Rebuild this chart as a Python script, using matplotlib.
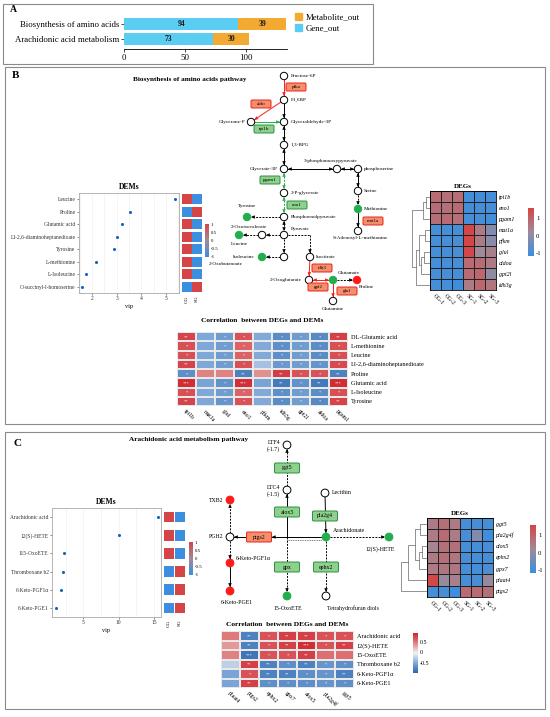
import numpy as np
import matplotlib
matplotlib.use("Agg")
import matplotlib.pyplot as plt
from matplotlib.colors import LinearSegmentedColormap, Normalize
from matplotlib.cm import ScalarMappable
from matplotlib.patches import Rectangle, Circle, FancyBboxPatch, Patch

plt.rcParams["font.family"] = ["Liberation Serif", "DejaVu Serif"]
plt.rcParams["axes.unicode_minus"] = False

# ---------------- data ----------------
# A: enriched pathways
pathways = ["Biosynthesis of amino acids", "Arachidonic acid metabolism"]
gene_out = [94, 73]
metab_out = [39, 30]

groups = ["CG-1", "CG-2", "CG-3", "SG-1", "SG-2", "SG-3"]

# B: DEMs (vip) and CG/SG direction
b_dems = ["Leucine", "Proline", "Glutamic acid", "LI-2,6-diaminoheptanedioate",
          "Tyrosine", "L-methionine", "L-Isoleucine", "O-succinyl-l-homoserine"]
b_vip = [5.38, 3.53, 3.2, 3.0, 2.9, 2.17, 1.76, 1.58]
b_cg_dir = [1, -1, 1, 1, 1, 1, 1, -1]

# B: DEGs z-scores
b_degs = ["tpi1b", "eno1", "pgam1", "mat1a", "pfkm", "glul", "aldoa", "gpt2l", "idh3g"]
b_deg_z = [
    [0.8, 0.7, 0.75, -1.0, -1.05, -1.0],
    [0.75, 0.7, 0.8, -1.05, -1.0, -1.0],
    [0.75, 0.8, 0.7, -1.0, -1.0, -1.05],
    [-1.0, -1.0, -1.0, 1.5, 0.5, -0.2],
    [-1.0, -1.0, -0.9, 1.5, 0.5, -0.1],
    [-1.0, -1.0, -0.9, 1.5, 0.2, 0.4],
    [-1.0, -1.0, -1.0, 0.8, 0.8, 0.5],
    [-1.0, -1.0, -1.0, 0.8, 0.9, 0.0],
    [-1.0, -1.0, -1.1, 0.5, 0.9, 0.6],
]
b_link = [(0, 1, 0.25), (9, 2, 0.4), (3, 4, 0.3), (5, 6, 0.35), (12, 7, 0.5),
          (11, 13, 0.65), (14, 8, 0.8), (10, 15, 1.0)]

# B: correlation DEGs x DEMs
b_corr_genes = ["tpi1b", "mat1a", "glul", "eno1", "pfkm", "idh3g", "gpt2l", "aldoa", "pgam1"]
b_corr_mets = ["DL-Glutamic acid", "L-methionine", "Leucine", "LI-2,6-diaminoheptanedioate",
               "Proline", "Glutamic acid", "L-Isoleucine", "Tyrosine"]
b_corr = [
    [0.78, -0.52, -0.6, 0.7, -0.5, -0.72, -0.6, -0.74, 0.8],
    [0.72, -0.52, -0.6, 0.62, -0.5, -0.7, -0.6, -0.72, 0.72],
    [0.72, -0.52, -0.6, 0.62, -0.5, -0.7, -0.6, -0.72, 0.72],
    [0.78, -0.52, -0.6, 0.72, -0.35, -0.62, -0.6, -0.66, 0.75],
    [-0.7, 0.45, 0.45, -0.8, 0.4, 0.82, 0.7, 0.7, -0.8],
    [0.9, -0.55, -0.68, 0.88, -0.55, -0.85, -0.68, -0.85, 0.9],
    [0.72, -0.52, -0.6, 0.62, -0.5, -0.7, -0.6, -0.72, 0.72],
    [0.78, -0.52, -0.65, 0.7, -0.5, -0.72, -0.6, -0.74, 0.78],
]

# C: DEMs
c_dems = ["Arachidonic acid", "12(S)-HETE", "115-OxoETE", "Thromboxane b2",
          "6-Keto-PGF1α", "6-Keto-PGE1"]
c_vip = [15.6, 10.1, 2.2, 2.1, 1.86, 1.14]
c_cg_dir = [1, 1, 1, -1, -1, -1]

# C: DEGs
c_degs = ["ggt5", "pla2g4f", "alox5", "ephx2", "gpx7", "plaat4", "ptgs2"]
c_deg_z = [
    [0.5, 0.7, 0.5, -1.0, -1.0, -1.0],
    [0.5, 0.8, 0.5, -1.0, -0.2, -1.1],
    [0.3, 0.7, 0.7, -1.0, -1.0, -1.0],
    [0.5, 0.7, 0.6, -1.0, -1.0, -1.0],
    [0.5, 0.6, 0.6, -1.0, -1.0, -0.9],
    [1.5, 0.1, 0.4, -1.0, -1.0, 0.1],
    [-1.0, -1.0, -1.2, 0.8, 0.8, 0.7],
]
c_link = [(0, 1, 0.25), (2, 3, 0.2), (8, 4, 0.3), (7, 9, 0.45), (10, 5, 0.7), (11, 6, 1.0)]

# C: correlation
c_corr_genes = ["plaat4", "ptgs2", "ephx2", "gpx7", "alox5", "pla2g4f", "ggt5"]
c_corr_mets = ["Arachidonic acid", "12(S)-HETE", "15-OxoETE", "Thromboxane b2",
               "6-Keto-PGF1α", "6-Keto-PGE1"]
c_corr = [
    [0.5, -0.8, 0.7, 0.8, 0.8, 0.7, 0.7],
    [0.35, -0.8, 0.7, 0.8, 0.9, 0.7, 0.8],
    [0.45, -0.88, 0.7, 0.7, 0.8, 0.55, 0.55],
    [-0.25, 0.8, -0.8, -0.7, -0.8, -0.65, -0.7],
    [-0.55, 0.7, -0.8, -0.8, -0.7, -0.65, -0.8],
    [-0.55, 0.8, -0.7, -0.7, -0.7, -0.65, -0.7],
]

# ---------------- layout / style ----------------
W, H = 550, 717
fig = plt.figure(figsize=(W / 100, H / 100), dpi=100)

deg_cmap = LinearSegmentedColormap.from_list("deg", ["#3B8EE0", "#A08A98", "#D64545"])
cor_cmap = LinearSegmentedColormap.from_list("cor", ["#2A66AE", "#7FA9D8", "#F2F2F2", "#E08080", "#D0232D"])
GREEN, RED = "#1FAF4B", "#FF1A1A"


def px_axes(x0, y0, x1, y1, **kw):
    return fig.add_axes([x0 / W, 1 - y1 / H, (x1 - x0) / W, (y1 - y0) / H], **kw)


def tick_text(vals):
    return ["%g" % v for v in vals]


ov = px_axes(0, 0, W, H)
ov.set_xlim(0, W)
ov.set_ylim(H, 0)
ov.axis("off")

for x0, y0, x1, y1 in [(3, 4, 373, 64), (5, 67, 545, 424), (5, 432, 545, 709)]:
    ov.add_patch(Rectangle((x0, y0), x1 - x0, y1 - y0, fill=False, ec="#8a8a8a", lw=0.8))
ov.text(10, 10, "A", fontsize=7, fontweight="bold", va="center")
ov.text(12, 76, "B", fontsize=8, fontweight="bold", va="center")
ov.text(13, 444, "C", fontsize=8, fontweight="bold", va="center")

# ---------------- A ----------------
ax = px_axes(124, 14, 287, 49)
ypos = np.arange(len(pathways))[::-1]
ax.barh(ypos, gene_out, height=0.75, color="#5BCDF2")
ax.barh(ypos, metab_out, left=gene_out, height=0.75, color="#F2AA33")
for y, g, m in zip(ypos, gene_out, metab_out):
    ax.text(g / 2, y, str(g), ha="center", va="center", fontsize=5.5, fontweight="bold", color="#1a1a1a")
    ax.text(g + m / 2, y, str(m), ha="center", va="center", fontsize=5.5, fontweight="bold", color="#1a1a1a")
ax.set_yticks(ypos, pathways, fontsize=6.3)
ax.set_xlim(0, 134)
ax.set_ylim(-0.6, 1.6)
ax.set_xticks([0, 50, 100])
ax.tick_params(labelsize=6.3, length=2, width=0.5, pad=1.5)
for s in ["top", "right", "left"]:
    ax.spines[s].set_visible(False)
ax.spines["bottom"].set_linewidth(0.6)
ax.grid(axis="x", color="#e6e6e6", lw=0.5, ls=":")
ax.set_axisbelow(True)
fig.legend(handles=[Patch(color="#F2AA33", label="Metabolite_out"), Patch(color="#5BCDF2", label="Gene_out")],
           loc="upper left", bbox_to_anchor=(295 / W, 1 - 13 / H), frameon=False, fontsize=6.3,
           handlelength=0.8, handleheight=0.8, handletextpad=0.4, labelspacing=0.3,
           borderaxespad=0, borderpad=0)


# ---------------- helpers ----------------
def dems_panel(box, strip_box, cbar_box, names, vip, cg_dir, xticks, xlim, bar_h, minor):
    ax = px_axes(*box)
    y = np.arange(len(names))
    ax.scatter(vip, y, s=5, color="#1565C0", zorder=3, linewidths=0)
    ax.set_ylim(len(names) - 0.5, -0.5)
    ax.set_yticks(y, names, fontsize=4.2)
    ax.set_xlim(*xlim)
    ax.set_xticks(xticks)
    ax.set_xticks(minor, minor=True)
    ax.tick_params(labelsize=4, length=1.5, width=0.4, pad=1, colors="#333333")
    ax.tick_params(which="minor", length=0)
    ax.grid(axis="x", which="both", color="#ececec", lw=0.4)
    ax.set_axisbelow(True)
    ax.set_xlabel("vip", fontsize=4.5, labelpad=1.5)
    ax.set_title("DEMs", fontsize=5.5, fontweight="bold", pad=3)
    for s in ax.spines.values():
        s.set_color("#aaaaaa")
        s.set_linewidth(0.6)
    norm = Normalize(-1, 1)
    sx = px_axes(*strip_box)
    for i, d in enumerate(cg_dir):
        sx.barh(i, 1, left=0, height=bar_h, color=deg_cmap(norm(d)))
        sx.barh(i, 1, left=1.05, height=bar_h, color=deg_cmap(norm(-d)))
    sx.set_ylim(len(names) - 0.5, -0.5)
    sx.set_xlim(0, 2.05)
    sx.set_yticks([])
    sx.set_xticks([0.5, 1.55], ["CG", "SG"], rotation=90, fontsize=3.8)
    sx.tick_params(length=0, pad=2)
    for s in sx.spines.values():
        s.set_visible(False)
    cax = px_axes(*cbar_box)
    ticks = [1, 0.5, 0, -0.5, -1]
    cb = fig.colorbar(ScalarMappable(norm, deg_cmap), cax=cax, ticks=ticks)
    cb.set_ticklabels(tick_text(ticks))
    cb.outline.set_visible(False)
    cb.ax.tick_params(labelsize=3.5, length=0, pad=1)


def dendro(ax, n, links):
    pos = {i: i + 0.5 for i in range(n)}
    hgt = {i: 0.0 for i in range(n)}
    for k, (a, b, h) in enumerate(links):
        ax.plot([hgt[a], h, h, hgt[b]], [pos[a], pos[a], pos[b], pos[b]], color="#666666", lw=0.5)
        pos[n + k] = (pos[a] + pos[b]) / 2
        hgt[n + k] = h
    ax.set_ylim(n, 0)
    ax.set_xlim(max(hgt.values()) * 1.02, 0)
    ax.axis("off")


def deg_panel(box, dbox, cbar_box, genes, z, links):
    z = np.array(z)
    ax = px_axes(*box)
    ax.pcolormesh(z, cmap=deg_cmap, vmin=-1.15, vmax=1.55, edgecolors="#222222", linewidth=0.5)
    ax.set_xlim(0, z.shape[1])
    ax.set_ylim(z.shape[0], 0)
    ax.yaxis.tick_right()
    ax.set_yticks(np.arange(len(genes)) + 0.5, genes, fontsize=4.3, style="italic")
    ax.set_xticks(np.arange(len(groups)) + 0.5)
    ax.set_xticklabels(groups, rotation=-45, ha="left", va="top", rotation_mode="anchor", fontsize=4.2)
    ax.tick_params(length=0, pad=2)
    for s in ax.spines.values():
        s.set_linewidth(0.6)
    ax.set_title("DEGs", fontsize=5, fontweight="bold", pad=2)
    dendro(px_axes(*dbox), len(genes), links)
    cax = px_axes(*cbar_box)
    ticks = [1, 0, -1]
    cb = fig.colorbar(ScalarMappable(Normalize(-1.15, 1.55), deg_cmap), cax=cax, ticks=ticks)
    cb.set_ticklabels(tick_text(ticks))
    cb.outline.set_visible(False)
    cb.ax.tick_params(labelsize=4.8, length=0, pad=1.5)


def stars(r):
    r = abs(r)
    return "***" if r >= 0.87 else "**" if r >= 0.78 else "*" if r >= 0.6 else ""


def corr_panel(box, genes, mets, r, title_y, cbar_box=None):
    r = np.array(r)
    ax = px_axes(*box)
    m = ax.pcolormesh(r, cmap=cor_cmap, vmin=-1, vmax=0.95, edgecolors="#e8e8e8", linewidth=0.3)
    for i in range(r.shape[0]):
        for j in range(r.shape[1]):
            ax.text(j + 0.5, i + 0.55, stars(r[i, j]), ha="center", va="center", fontsize=3.2, color="white")
    ax.set_xlim(0, r.shape[1])
    ax.set_ylim(r.shape[0], 0)
    ax.yaxis.tick_right()
    ax.set_yticks(np.arange(len(mets)) + 0.5, mets, fontsize=4.5)
    ax.set_xticks(np.arange(len(genes)) + 0.5)
    ax.set_xticklabels(genes, rotation=-45, ha="left", va="top", rotation_mode="anchor", fontsize=4.2)
    ax.tick_params(length=0, pad=2)
    for s in ax.spines.values():
        s.set_visible(False)
    ov.text((box[0] + box[2]) / 2, title_y, "Correlation  between DEGs and DEMs", ha="center", va="center",
            fontsize=5.3, fontweight="bold")
    if cbar_box:
        cax = px_axes(*cbar_box)
        ticks = [0.5, 0, -0.5]
        cb = fig.colorbar(m, cax=cax, ticks=ticks)
        cb.set_ticklabels(tick_text(ticks))
        cb.outline.set_visible(False)
        cb.ax.tick_params(labelsize=4.3, length=0, pad=1.5)


def node(p, kind, r=3.7):
    fc = {"n": "white", "g": GREEN, "r": RED}[kind]
    ec = "black" if kind == "n" else fc
    ov.add_patch(Circle(p, r, fc=fc, ec=ec, lw=0.7, zorder=5))


def gene_box(label, x, y, kind, w, h, fs):
    fc, ec = ("#8ED08E", "#2F8F3F") if kind == "g" else ("#F58F6B", "#E8231F")
    ov.add_patch(FancyBboxPatch((x - w / 2, y - h / 2), w, h, boxstyle="round,pad=0,rounding_size=1.2",
                                fc=fc, ec=ec, lw=0.7, zorder=6))
    ov.text(x, y, label, ha="center", va="center", fontsize=fs, zorder=7)


def arrow(p, q, color="black", dashed=False, both=False, r0=4.2, r1=4.2):
    p, q = np.array(p, float), np.array(q, float)
    u = (q - p) / np.hypot(*(q - p))
    a, b = p + u * r0, q - u * r1
    ov.plot([a[0], b[0]], [a[1], b[1]], color=color, lw=0.7, ls=(0, (2, 1.3)) if dashed else "-", zorder=3)
    heads = [(b, u)] + ([(a, -u)] if both else [])
    for tip, d in heads:
        ov.annotate("", xy=tuple(tip), xytext=tuple(tip - d * 2.5),
                    arrowprops=dict(arrowstyle="-|>", mutation_scale=4.5, color=color, lw=0.5,
                                    shrinkA=0, shrinkB=0), zorder=4)


# ---------------- B ----------------
dems_panel((79, 193, 179, 293), (182, 193, 202, 293), (205, 224, 209, 257),
           b_dems, b_vip, b_cg_dir, [2, 3, 4, 5], (1.47, 5.53), 0.78, np.arange(1.5, 5.6, 0.5))
deg_panel((430, 191, 496, 290), (412, 191, 430, 290), (528, 208, 534, 256), b_degs, b_deg_z, b_link)
corr_panel((177, 332, 348, 406), b_corr_genes, b_corr_mets, b_corr, 320)

ov.text(190, 80, "Biosynthesis of amino acids pathway", ha="center", va="center", fontsize=5.2, fontweight="bold")
PB = {
    "Fructose-6P": (284, 76), "F1,6BP": (284, 100), "Glycerone-P": (251, 122),
    "Glyceraldehyde-3P": (284, 122), "1,3-BPG": (284, 145), "Glycerate-3P": (284, 169),
    "3-phosphonooxypyruvate": (337, 169), "phosphoserine": (358, 169), "Serine": (358, 191),
    "Methionine": (358, 209), "S-Adenosyl-L-methionine": (358, 231), "2-P-glycerate": (284, 193),
    "Phosphoenolpyruvate": (284, 217), "Tyrosine": (247, 217), "Pyruvate": (284, 235),
    "2-Oxoisovalerate": (262, 235), "Leucine": (239, 235), "2-Oxobutanoate": (284, 257),
    "Isoleucine": (262, 257), "Isocitrate": (310, 257), "2-Oxoglutarate": (309, 280),
    "Glutamate": (333, 280), "Proline": (357, 280), "Glutamine": (333, 301),
}
b_kind = {"Tyrosine": "g", "Leucine": "g", "Isoleucine": "g", "Methionine": "g", "Glutamate": "g", "Proline": "r"}
b_edges = [
    ("Fructose-6P", "F1,6BP", RED, False, False), ("F1,6BP", "Glycerone-P", RED, False, False),
    ("Glycerone-P", "Glyceraldehyde-3P", GREEN, False, False), ("F1,6BP", "Glyceraldehyde-3P", "black", False, False),
    ("Glyceraldehyde-3P", "1,3-BPG", "black", False, True), ("1,3-BPG", "Glycerate-3P", "black", False, True),
    ("Glycerate-3P", "3-phosphonooxypyruvate", "black", False, True),
    ("3-phosphonooxypyruvate", "phosphoserine", "black", False, True),
    ("phosphoserine", "Serine", "black", False, True), ("Serine", "Methionine", "black", True, False),
    ("Methionine", "S-Adenosyl-L-methionine", "black", False, False),
    ("Glycerate-3P", "2-P-glycerate", GREEN, True, True), ("2-P-glycerate", "Phosphoenolpyruvate", GREEN, True, True),
    ("Phosphoenolpyruvate", "Tyrosine", "black", True, False), ("Phosphoenolpyruvate", "Pyruvate", "black", True, True),
    ("Pyruvate", "2-Oxoisovalerate", "black", True, False), ("2-Oxoisovalerate", "Leucine", "black", True, False),
    ("Pyruvate", "2-Oxobutanoate", "black", True, False), ("2-Oxobutanoate", "Isoleucine", "black", True, False),
    ("Isocitrate", "2-Oxoglutarate", RED, False, False), ("2-Oxoglutarate", "Glutamate", RED, False, True),
    ("Glutamate", "Proline", "black", True, False), ("Glutamate", "Glutamine", RED, False, False),
]
for a, b, c, d, bo in b_edges:
    arrow(PB[a], PB[b], c, d, bo)
ov.plot([288, 310], [235, 235], color="black", lw=0.7, ls=(0, (2, 1.3)), zorder=3)
arrow((310, 235), PB["Isocitrate"], "black", True, False, r0=0)
for k, p in PB.items():
    node(p, b_kind.get(k, "n"))
b_labels = [
    ("Fructose-6P", 291, 76, "left"), ("F1,6BP", 291, 100, "left"), ("Glycerone-P", 245, 122, "right"),
    ("Glyceraldehyde-3P", 291, 122, "left"), ("1,3-BPG", 291, 145, "left"), ("Glycerate-3P", 278, 169, "right"),
    ("3-phosphonooxypyruvate", 331, 161, "center"), ("phosphoserine", 364, 169, "left"),
    ("2-P-glycerate", 291, 193, "left"), ("Serine", 364, 191, "left"), ("Methionine", 364, 209, "left"),
    ("S-Adenosyl-L-methionine", 360, 238, "center"), ("Phosphoenolpyruvate", 291, 217, "left"),
    ("Tyrosine", 247, 206, "center"), ("Pyruvate", 291, 229, "left"), ("2-Oxoisovalerate", 249, 227, "center"),
    ("Leucine", 239, 244, "center"), ("Isoleucine", 255, 257, "right"), ("Isocitrate", 316, 257, "left"),
    ("2-Oxobutanoate", 226, 264, "center"), ("2-Oxoglutarate", 302, 280, "right"),
    ("Glutamate", 338, 273, "left"), ("Proline", 366, 287, "center"), ("Glutamine", 333, 309, "center"),
]
for t, x, y, ha in b_labels:
    ov.text(x, y, t, ha=ha, va="center", fontsize=3.8)
for lab, x, y, k in [("pfka", 296, 87, "r"), ("aldo", 261, 104, "r"), ("tpi1b", 264, 129, "g"),
                     ("pgam1", 270, 180, "g"), ("eno1", 297, 205, "g"), ("mat1a", 373, 221, "r"),
                     ("idh3", 322, 268, "r"), ("gpt2", 318, 287, "r"), ("glul", 347, 291, "r")]:
    gene_box(lab, x, y, k, 20, 8, 3.6)

# ---------------- C ----------------
dems_panel((52, 508, 161, 617), (164, 508, 185, 617), (189, 542, 193, 575),
           c_dems, c_vip, c_cg_dir, [5, 10, 15], (0.57, 16.0), 0.58, np.arange(2.5, 16, 2.5))
deg_panel((427, 518, 493, 597), (400, 518, 427, 597), (530, 525, 536, 573), c_degs, c_deg_z, c_link)
corr_panel((221, 631, 354, 688), c_corr_genes, c_corr_mets, c_corr, 624, (413, 633, 418, 673))

ov.text(189, 440, "Arachidonic acid metabolism pathway", ha="center", va="center", fontsize=5.2, fontweight="bold")
PC = {
    "LTF4": (287, 445), "LTC4": (287, 490), "Lecithin": (325, 493), "TXB2": (230, 500),
    "PGH2": (230, 537), "Arachidonate": (326, 537), "12(S)-HETE": (389, 537),
    "6-Keto-PGF1α": (230, 563), "6-Keto-PGE1": (230, 591), "15-OxoETE": (287, 596),
    "Tetrahydrofuran diols": (326, 596),
}
c_kind = {"TXB2": "r", "6-Keto-PGF1α": "r", "6-Keto-PGE1": "r",
          "Arachidonate": "g", "12(S)-HETE": "g", "15-OxoETE": "g"}
junction = (287, 537)
arrow(PC["Lecithin"], PC["Arachidonate"])
arrow(PC["Arachidonate"], (272, 537), r1=0)
arrow((246, 537), PC["PGH2"], r0=0)
ov.plot([287, 322], [540, 540], color="#777777", lw=0.7, ls=(0, (1, 0.8)), zorder=3)
arrow(junction, PC["LTC4"], r0=0)
arrow(PC["LTC4"], PC["LTF4"], dashed=True)
arrow(junction, PC["15-OxoETE"], dashed=True, r0=0)
arrow(PC["Arachidonate"], PC["Tetrahydrofuran diols"], dashed=True)
arrow(PC["Arachidonate"], PC["12(S)-HETE"], dashed=True)
arrow(PC["PGH2"], PC["TXB2"], dashed=True)
arrow(PC["PGH2"], PC["6-Keto-PGF1α"], dashed=True)
arrow(PC["6-Keto-PGF1α"], PC["6-Keto-PGE1"])
for k, p in PC.items():
    node(p, c_kind.get(k, "n"), r=3.9)
c_labels = [
    ("LTF4\n(-1.7)", 280, 446, "right"), ("LTC4\n(-1.5)", 280, 491, "right"), ("Lecithin", 332, 493, "left"),
    ("TXB2", 223, 500, "right"), ("PGH2", 223, 537, "right"), ("Arachidonate", 333, 530, "left"),
    ("12(S)-HETE", 380, 549, "center"), ("6-Keto-PGF1α", 236, 558, "left"), ("6-Keto-PGE1", 237, 603, "center"),
    ("15-OxoETE", 288, 608, "center"), ("Tetrahydrofuran diols", 353, 608, "center"),
]
for t, x, y, ha in c_labels:
    ov.text(x, y, t, ha=ha, va="center", fontsize=4.2, linespacing=1.1)
for lab, x, y, k in [("ggt5", 287, 468, "g"), ("alox5", 287, 512, "g"), ("pla2g4", 325, 516, "g"),
                     ("ptgs2", 259, 537, "r"), ("gpx", 287, 567, "g"), ("ephx2", 326, 567, "g")]:
    gene_box(lab, x, y, k, 25, 10, 4.2)

fig.savefig("out.png", dpi=100)
